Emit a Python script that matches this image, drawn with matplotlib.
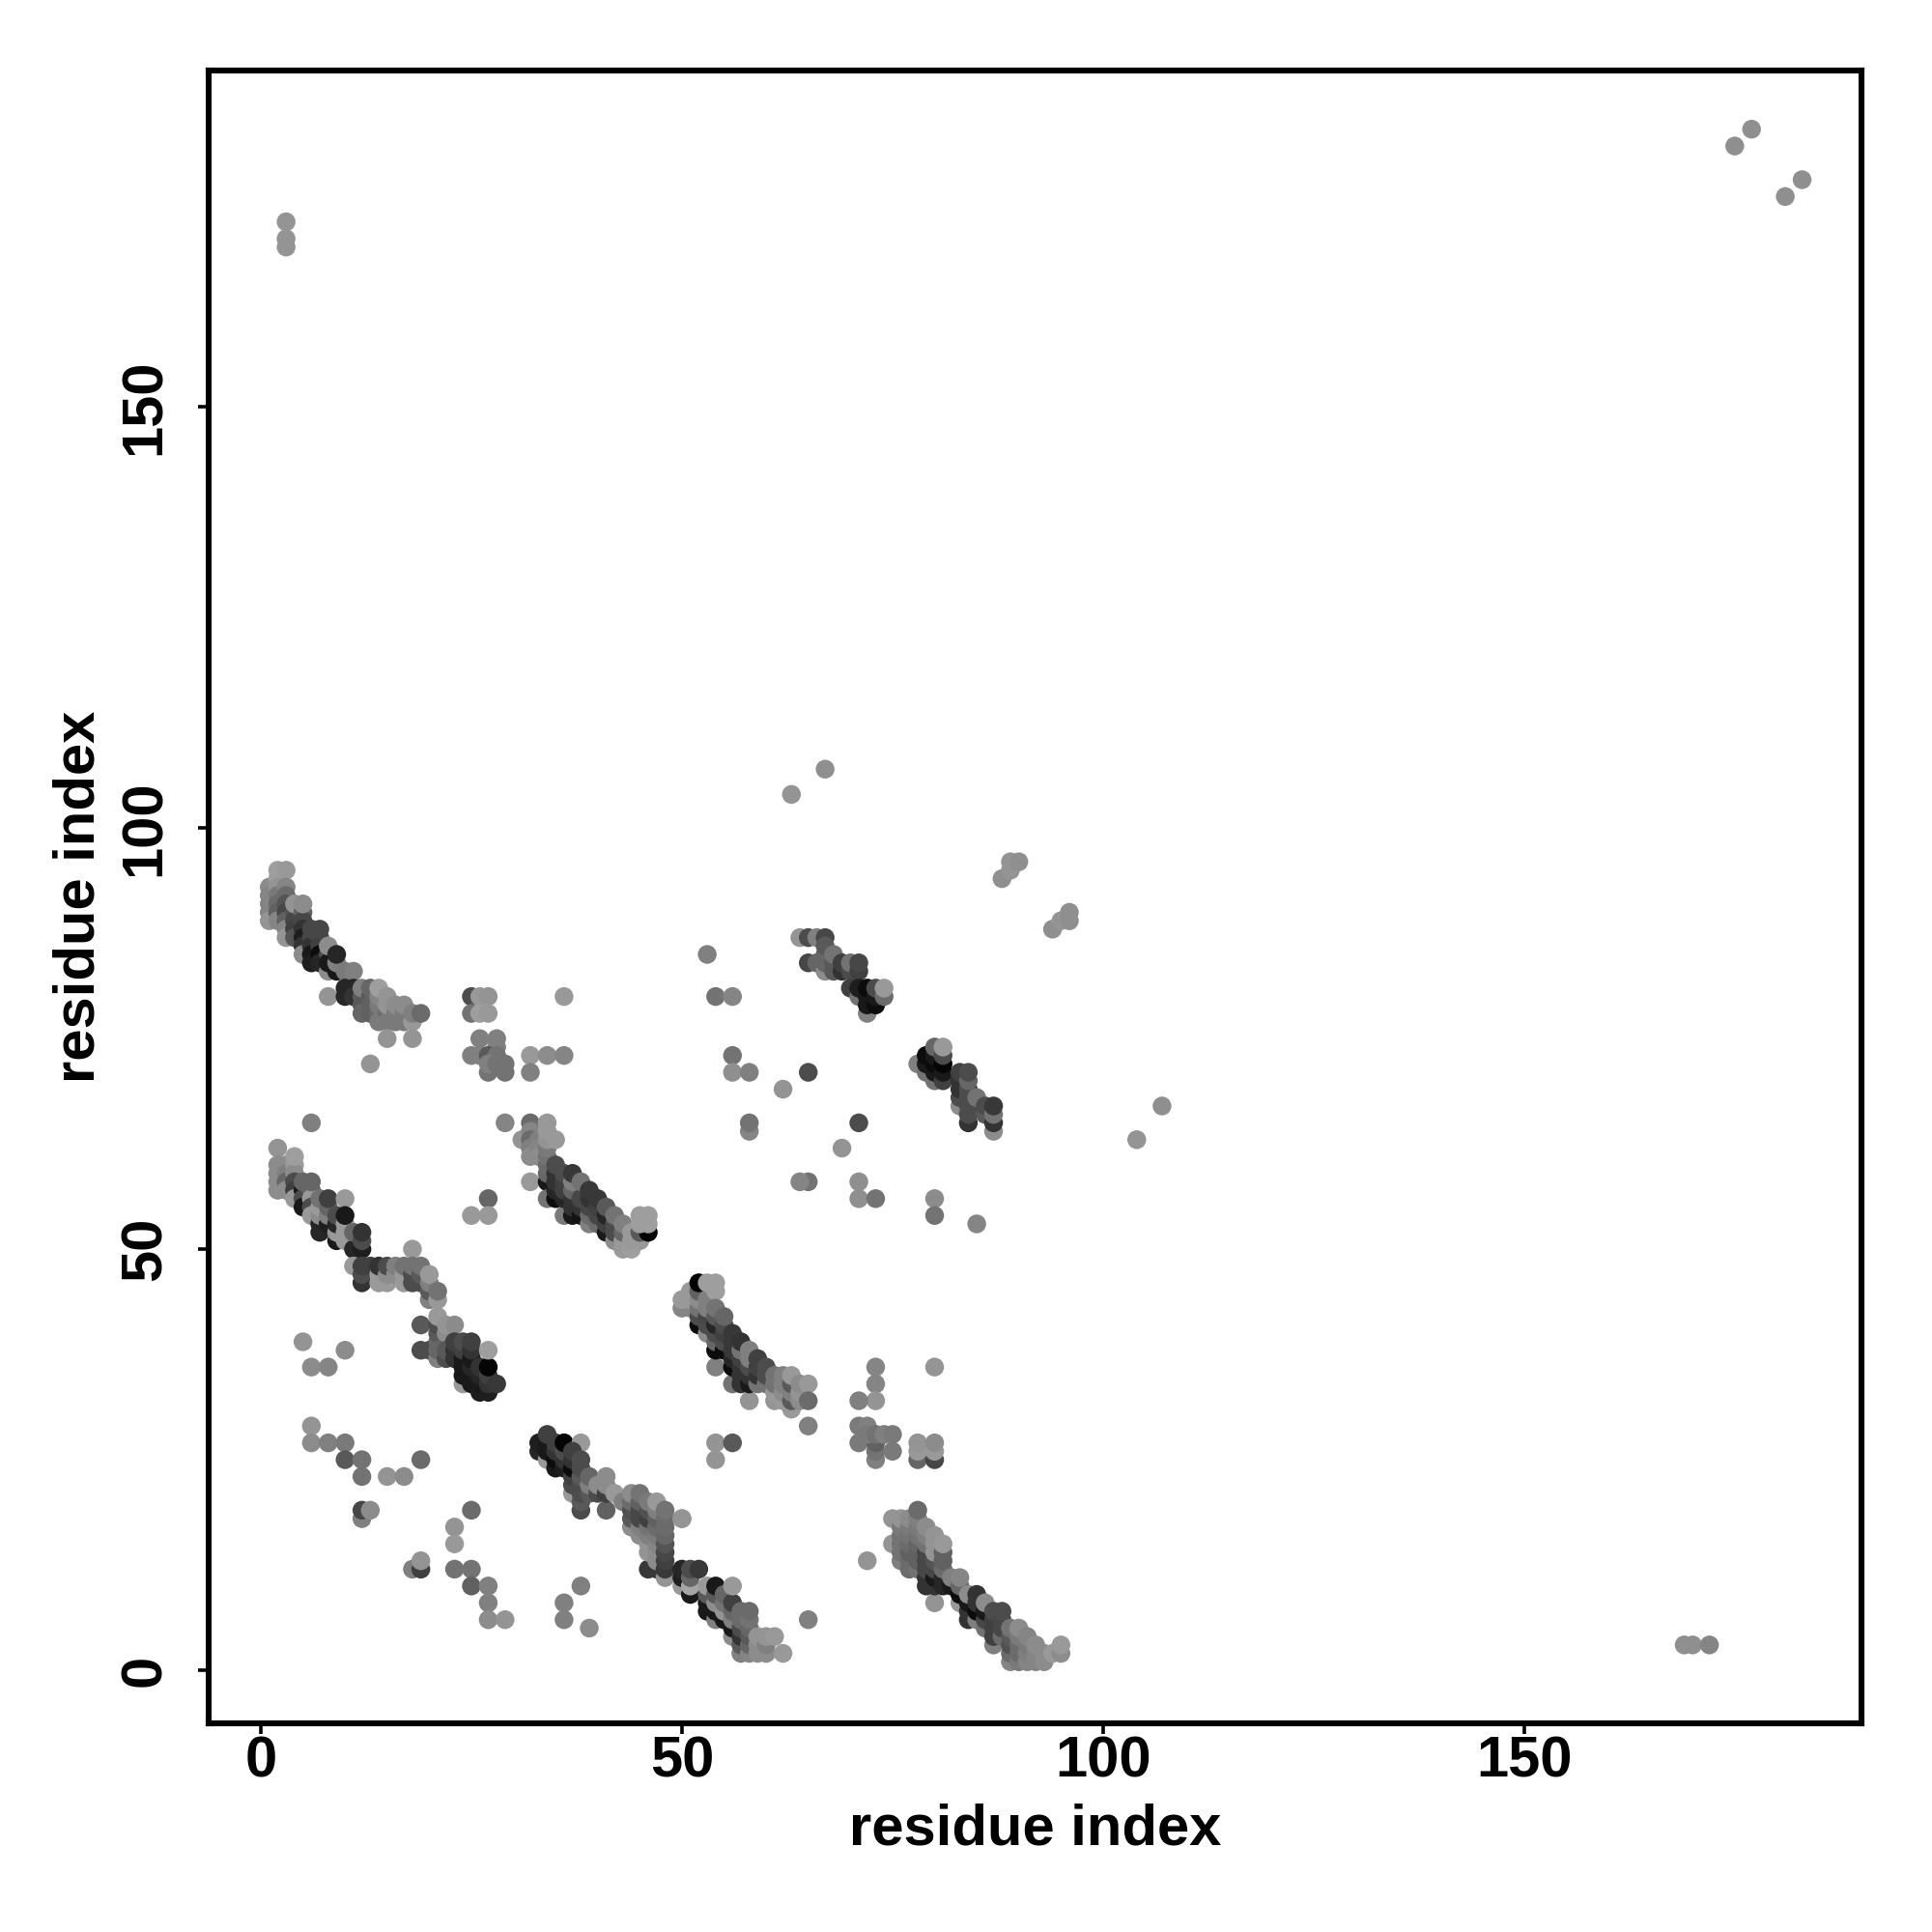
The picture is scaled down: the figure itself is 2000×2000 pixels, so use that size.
import matplotlib
matplotlib.use('Agg')
import matplotlib.pyplot as plt

# contacts as (i, j, score), grouped by region of the map. score 0 = black
far_points = [(175, 181, .56), (177, 183, .56), (181, 175, .56), (183, 177, .56),
              (3, 169, .58), (3, 170, .58), (3, 172, .58),
              (169, 3, .56), (170, 3, .56), (172, 3, .52),
              (63, 104, .58), (67, 107, .56),
              (88, 94, .56), (89, 95, .58), (89, 96, .58), (90, 96, .56),
              (94, 88, .56), (95, 89, .58), (96, 89, .56), (96, 90, .56),
              (104, 63, .58), (107, 67, .56)]

band_a = [(1, 93, .55), (1, 92, .52), (1, 91, .52), (1, 90, .52), (1, 89, .58),
          (2, 95, .62), (2, 94, .62), (2, 93, .58), (2, 92, .48), (2, 91, .42), (2, 90, .38), (2, 89, .52),
          (3, 95, .6), (3, 93, .52), (3, 92, .42), (3, 91, .33), (3, 90, .28), (3, 89, .38), (3, 88, .52), (3, 87, .58),
          (4, 90, .33), (4, 89, .28), (4, 88, .25), (4, 87, .33), (4, 91, .58),
          (5, 90, .38), (5, 89, .28), (5, 88, .2), (5, 87, .12), (5, 86, .2), (5, 85, .55), (5, 91, .55),
          (6, 87, .28), (6, 86, .2), (6, 85, .1), (6, 84, .12), (6, 88, .28),
          (7, 87, .28), (7, 86, .25), (7, 85, .05), (7, 84, .15), (7, 88, .28),
          (8, 83, .55), (8, 85, .3), (8, 84, .1), (8, 86, .55),
          (9, 83, .1), (9, 84, .5), (9, 85, .15), (8, 80, .58),
          (10, 83, .48), (11, 83, .5), (10, 81, .15), (10, 80, .15), (11, 81, .15), (11, 80, .2),
          (12, 80, .35), (12, 79, .35), (12, 78, .4), (12, 81, .5),
          (13, 80, .35), (13, 79, .38), (13, 78, .38), (13, 81, .4),
          (14, 78, .42), (14, 77, .48), (14, 79, .48), (14, 80, .52), (14, 81, .62),
          (15, 78, .42), (15, 77, .48), (15, 79, .58), (15, 80, .58),
          (16, 78, .48), (16, 77, .48), (16, 79, .55), (17, 78, .48), (17, 77, .48), (17, 79, .55),
          (18, 77, .6), (18, 78, .5), (19, 78, .42),
          (15, 75, .58), (18, 75, .58), (13, 72, .58)]

block_25_80 = [(25, 80, .3), (26, 80, .6), (27, 80, .58),
               (25, 78, .45), (26, 78, .62), (27, 78, .6),
               (26, 75, .5), (28, 75, .5), (28, 74, .5),
               (25, 73, .5), (26, 73, .5), (27, 73, .35), (28, 73, .45),
               (27, 71, .45), (27, 72, .5), (28, 72, .45), (29, 72, .45), (29, 71, .45),
               (32, 73, .6), (34, 73, .55), (36, 73, .52), (32, 71, .5), (36, 80, .6),
               (6, 65, .5), (29, 65, .52)]

band_b = [(2, 62, .58), (2, 60, .55), (2, 59, .55), (2, 58, .55), (2, 57, .55),
          (3, 60, .55), (3, 59, .5), (3, 58, .4), (3, 57, .55),
          (4, 60, .6), (4, 59, .55), (4, 58, .3), (4, 57, .25), (4, 56, .6), (4, 61, .62),
          (5, 57, .1), (5, 56, .3), (5, 55, .1), (5, 58, .4),
          (6, 57, .4), (6, 56, .6), (6, 55, .3), (6, 54, .6), (6, 58, .4),
          (7, 53, .15), (7, 52, .15), (7, 54, .55), (7, 55, .6), (7, 56, .45),
          (8, 53, .12), (8, 54, .5), (8, 55, .4), (8, 56, .25), (10, 56, .6),
          (9, 51, .1), (9, 52, .6), (9, 53, .15), (9, 54, .3),
          (10, 51, .6), (10, 52, .6), (10, 53, .6), (10, 54, .1),
          (11, 50, .15), (11, 52, .4), (12, 50, .12), (12, 51, .3), (12, 52, .2),
          (11, 48, .6), (12, 46, .2), (12, 47, .3), (12, 48, .25), (13, 48, .25),
          (14, 46, .6), (14, 47, .6), (14, 48, .2), (15, 46, .6), (15, 47, .55), (15, 48, .3),
          (16, 47, .55), (16, 48, .5), (17, 46, .6), (17, 47, .6), (17, 48, .45),
          (18, 50, .6), (18, 46, .3), (18, 47, .3), (18, 48, .45),
          (19, 46, .3), (19, 47, .35), (19, 48, .45),
          (20, 44, .5), (20, 45, .35), (20, 46, .5), (20, 47, .6), (21, 44, .6), (21, 45, .45),
          (19, 41, .35), (19, 38, .3), (20, 38, .3), (21, 39, .4), (21, 40, .35), (21, 41, .3),
          (21, 42, .6), (22, 40, .55), (22, 41, .58), (23, 41, .55),
          (21, 37, .5), (21, 38, .4), (22, 37, .3), (22, 38, .35),
          (24, 34, .6), (23, 37, .2), (23, 38, .2), (23, 39, .25),
          (24, 35, .1), (24, 36, .1), (24, 37, .1), (24, 38, .25), (24, 39, .3),
          (25, 34, .1), (25, 35, .1), (25, 36, .15), (25, 37, .1), (25, 38, .2), (25, 39, .25),
          (26, 33, .12), (26, 34, .1), (26, 35, .15), (26, 36, .2), (27, 33, .12), (27, 34, .2), (27, 35, .25),
          (28, 34, .22), (27, 36, .02), (27, 38, .62)]

low_left = [(5, 39, .58), (6, 36, .55), (8, 36, .52), (10, 38, .55),
            (27, 56, .4), (25, 54, .6), (27, 54, .6),
            (6, 29, .58), (6, 27, .55), (8, 27, .5), (10, 27, .48), (10, 25, .35),
            (12, 25, .45), (12, 23, .45), (15, 23, .58), (17, 23, .55), (19, 25, .42),
            (12, 18, .5), (12, 19, .28), (13, 19, .55), (25, 19, .42),
            (23, 17, .58), (23, 15, .6), (18, 12, .5), (19, 12, .25), (19, 13, .58),
            (23, 12, .45), (25, 12, .45), (25, 10, .38), (27, 10, .5), (27, 8, .5), (27, 6, .55), (29, 6, .58)]

band_c = [(32, 65, .42), (34, 65, .6), (31, 63, .58), (32, 64, .52), (32, 63, .42), (32, 62, .5), (32, 61, .55),
          (33, 63, .5), (33, 62, .52), (33, 61, .55), (32, 58, .6),
          (34, 58, .1), (34, 59, .4), (34, 60, .42), (34, 61, .45), (34, 62, .48), (34, 63, .58), (34, 64, .6), (35, 63, .6),
          (34, 56, .45), (35, 56, .05), (35, 57, .15), (35, 58, .2), (35, 59, .2), (35, 60, .3),
          (36, 54, .48), (36, 56, .15), (36, 57, .25), (36, 58, .25), (36, 59, .3),
          (37, 54, .1), (37, 55, .2), (37, 56, .2), (37, 57, .4), (37, 58, .5), (37, 59, .22),
          (38, 54, .08), (38, 55, .2), (38, 56, .28), (38, 58, .45),
          (39, 53, .5), (39, 54, .42), (39, 55, .28), (39, 56, .2), (39, 57, .22),
          (40, 53, .42), (40, 54, .28), (40, 55, .25), (40, 56, .22),
          (41, 52, .1), (41, 53, .25), (41, 54, .15), (41, 55, .35),
          (42, 51, .55), (42, 52, .3), (42, 53, .3), (42, 54, .45),
          (43, 50, .6), (43, 51, .6), (43, 52, .4), (43, 53, .5),
          (44, 50, .62), (44, 51, .6), (44, 52, .6), (45, 51, .6), (45, 52, .35),
          (46, 52, .02), (45, 53, .62), (46, 53, .62), (45, 54, .62), (46, 54, .62),
          (58, 64, .52), (58, 65, .45)]

band_d = [(51, 43, .55), (50, 43, .52), (51, 45, .6), (50, 44, .6), (51, 44, .6),
          (52, 41, .05), (52, 42, .3), (52, 43, .45), (52, 44, .55), (52, 45, .38), (52, 46, 0.),
          (53, 40, .55), (53, 41, .3), (53, 42, .28), (53, 43, .5), (53, 44, .5),
          (53, 46, .62), (54, 46, .62), (54, 45, .62),
          (54, 36, .5), (54, 38, .05), (54, 39, .4), (54, 40, .3), (54, 41, .15), (54, 42, .35), (54, 43, .45),
          (55, 38, .05), (55, 39, .3), (55, 40, .25), (55, 41, .3), (55, 42, .4),
          (56, 34, .45), (56, 36, .05), (56, 37, .15), (56, 38, .22), (56, 39, .22), (56, 40, .22),
          (57, 34, .2), (57, 35, .2), (57, 36, .2), (57, 37, .25), (57, 38, .45), (57, 39, .2),
          (58, 32, .58), (58, 34, .1), (58, 35, .2), (58, 36, .3), (58, 37, .5), (58, 38, .5),
          (59, 34, .45), (59, 35, .2), (59, 36, .25), (59, 37, .25),
          (60, 34, .45), (60, 35, .3), (60, 36, .3),
          (61, 32, .58), (61, 33, .6), (61, 34, .45), (61, 35, .45),
          (62, 32, .6), (62, 33, .55), (62, 34, .5), (62, 35, .5),
          (63, 31, .6), (63, 32, .35), (63, 33, .5), (63, 34, .35), (63, 35, .6),
          (64, 32, .55), (64, 33, .58), (64, 34, .55), (65, 34, .6), (65, 32, .42), (65, 29, .5),
          (54, 27, .58), (56, 27, .35), (54, 25, .58)]

block_72_28 = [(73, 36, .52), (73, 34, .52), (73, 32, .58), (71, 32, .5),
               (71, 29, .48), (72, 29, .5), (71, 27, .48),
               (73, 25, .5), (73, 26, .45), (73, 27, .38), (72, 28, .48), (73, 28, .45), (74, 28, .5), (75, 28, .48), (75, 26, .48),
               (80, 36, .58), (78, 25, .4), (80, 25, .28), (78, 26, .6), (80, 26, .6), (78, 27, .58), (80, 27, .55)]

band_e = [(33, 26, .15), (33, 27, .12), (34, 25, .6), (34, 26, .1), (34, 27, .1), (34, 28, .25),
          (35, 24, .1), (35, 25, .05), (35, 26, .2), (35, 27, .25),
          (36, 24, .12), (36, 25, .2), (36, 26, .3), (36, 27, .02), (38, 27, .6),
          (37, 21, .6), (37, 22, .3), (37, 23, .25), (37, 24, .05), (37, 25, .2), (37, 26, .25),
          (38, 19, .3), (38, 20, .35), (38, 21, .3), (38, 22, .3), (38, 23, .35), (38, 24, .3), (38, 25, .3),
          (39, 21, .35), (39, 22, .5), (39, 23, .4), (40, 21, .3), (40, 22, .55),
          (41, 19, .38), (41, 21, .25), (41, 22, .55), (41, 23, .55), (42, 21, .6), (43, 20, .5),
          (44, 17, .55), (44, 18, .35), (44, 19, .32), (44, 20, .42), (44, 21, .55),
          (45, 16, .55), (45, 17, .5), (45, 18, .28), (45, 19, .28), (45, 20, .38), (45, 21, .45),
          (46, 12, .22), (46, 14, .58), (46, 15, .58), (46, 16, .5), (46, 17, .45), (46, 18, .25), (46, 19, .32), (46, 20, .48),
          (47, 12, .22), (47, 13, .55), (47, 14, .55), (47, 15, .52), (47, 16, .48), (47, 17, .42), (47, 18, .38), (47, 19, .5), (47, 20, .6),
          (48, 11, .58), (48, 12, .22), (48, 13, .25), (48, 14, .28), (48, 15, .33), (48, 16, .4), (48, 17, .42), (48, 18, .42), (48, 19, .45),
          (50, 18, .58), (50, 10, .6), (50, 11, .12), (50, 12, .15), (51, 9, .1), (51, 10, .65), (51, 11, .4), (51, 12, .3), (52, 12, .22),
          (53, 7, .1), (53, 8, .1), (53, 9, .35), (53, 10, .6),
          (54, 6, .5), (54, 7, .1), (54, 8, .55), (54, 9, .35), (54, 10, .1),
          (55, 6, .1), (55, 7, .58), (55, 8, .45), (55, 9, .4),
          (56, 4, .55), (56, 5, .1), (56, 6, .5), (56, 7, .4), (56, 8, .25), (56, 10, .6),
          (57, 2, .5), (57, 3, .35), (57, 4, .2), (57, 5, .3), (57, 6, .42), (57, 7, .42),
          (58, 2, .52), (58, 3, .4), (58, 4, .35), (58, 5, .4), (58, 6, .45), (58, 7, .42),
          (59, 2, .55), (59, 3, .55), (59, 4, .58), (60, 2, .55), (60, 3, .5), (60, 4, .58), (61, 4, .6), (62, 2, .6),
          (38, 10, .5), (36, 8, .5), (36, 6, .5), (39, 5, .55), (65, 6, .5), (50, 18, .58)]

band_f = [(72, 13, .58), (75, 18, .58), (75, 15, .58),
          (76, 13, .5), (76, 14, .45), (76, 15, .45), (76, 16, .45), (76, 17, .48), (76, 18, .58),
          (77, 12, .42), (77, 13, .42), (77, 14, .38), (77, 15, .42), (77, 16, .45), (77, 17, .48), (77, 18, .55),
          (78, 12, .45), (78, 13, .38), (78, 14, .38), (78, 15, .4), (78, 16, .45), (78, 17, .48), (78, 18, .5), (78, 19, .42),
          (80, 8, .58), (79, 10, .2), (79, 11, .2), (79, 12, .28), (79, 13, .28), (79, 14, .28), (79, 15, .45), (79, 16, .5), (79, 17, .55),
          (80, 10, .2), (80, 11, .1), (80, 12, .28), (80, 13, .33), (80, 14, .58), (80, 15, .58), (80, 16, .58),
          (81, 10, .15), (81, 11, .15), (81, 12, .42), (81, 13, .38), (81, 14, .38), (81, 15, .6),
          (82, 10, .1), (82, 11, .5), (83, 8, .6), (83, 9, .05), (83, 10, .4), (83, 11, .52),
          (84, 6, .2), (84, 7, .2), (84, 8, .1), (84, 9, .55),
          (85, 6, .5), (85, 7, .05), (85, 8, .2), (85, 9, .2),
          (86, 5, .45), (86, 6, .28), (86, 7, .1), (86, 8, .55),
          (87, 3, .5), (87, 4, .25), (87, 5, .25), (87, 6, .25), (87, 7, .3),
          (88, 4, .42), (88, 5, .28), (88, 6, .28), (88, 7, .3),
          (89, 1, .52), (89, 2, .42), (89, 3, .32), (89, 4, .35), (89, 5, .45),
          (90, 1, .48), (90, 2, .42), (90, 3, .42), (90, 4, .48), (90, 5, .55),
          (91, 1, .52), (91, 2, .5), (91, 3, .48), (91, 4, .52),
          (92, 1, .52), (92, 2, .52), (92, 3, .55), (93, 1, .55), (93, 2, .55), (94, 2, .6), (95, 2, .55), (95, 3, .6)]

band_g = [(64, 87, .58), (65, 87, .3), (66, 87, .5), (67, 87, .28),
          (65, 84, .28), (66, 84, .4), (67, 83, .55), (67, 84, .4), (67, 85, .4), (67, 86, .35),
          (68, 83, .35), (68, 84, .35), (68, 85, .45), (69, 83, .2), (69, 84, .25),
          (70, 83, .3), (70, 84, .45), (71, 83, .25), (71, 84, .28),
          (72, 78, .5), (70, 81, .25), (71, 80, .45), (71, 81, .12), (72, 79, .1), (72, 80, .1), (72, 81, .05),
          (73, 79, .05), (73, 80, .1), (73, 81, .3), (74, 80, .42), (74, 81, .6),
          (65, 71, .3), (62, 69, .58), (71, 65, .3), (69, 62, .58),
          (71, 58, .56), (71, 56, .56), (73, 56, .45), (65, 58, .45), (64, 58, .52),
          (53, 85, .5), (54, 80, .45), (56, 80, .52), (56, 73, .45), (56, 71, .56), (58, 71, .5)]

band_h = [(78, 72, .5), (79, 71, .45), (79, 72, .1), (79, 73, .05),
          (80, 70, .45), (80, 71, .1), (80, 72, .05), (80, 73, .1), (80, 74, .4),
          (81, 70, .25), (81, 71, .1), (81, 72, .02), (81, 73, .3), (81, 74, .6),
          (83, 67, .55), (83, 68, .3), (83, 69, .2), (83, 70, .2), (83, 71, .25),
          (84, 65, .2), (84, 66, .3), (84, 67, .3), (84, 68, .3), (84, 69, .3), (84, 70, .4), (84, 71, .3),
          (85, 67, .3), (85, 68, .45), (86, 66, .35), (86, 67, .3),
          (87, 64, .55), (87, 65, .2), (87, 66, .45), (87, 67, .22),
          (80, 56, .55), (80, 54, .45), (85, 53, .52)]

groups = [far_points, block_25_80, low_left, band_a, band_b, band_c, band_d,
          block_72_28, band_e, band_f, band_g, band_h]

ticks = [0, 50, 100, 150]

fig = plt.figure(figsize=(20, 20), dpi=100)
ax = fig.add_axes([215.7 / 2000, 1 - 1784 / 2000, (1927 - 215.7) / 2000, (1784 - 72.7) / 2000])

for g in groups:
    x = [p[0] for p in g]
    y = [p[1] for p in g]
    s = [p[2] for p in g]
    ax.scatter(x, y, c=s, cmap='gray', vmin=0, vmax=1, s=196, linewidths=0)

ax.set_xlim(-6.23, 190.05)
ax.set_ylim(-6.31, 190.0)
ax.set_xticks(ticks)
ax.set_yticks(ticks)
ax.tick_params(axis='both', length=8, width=2.6, labelsize=43)
ax.tick_params(axis='x', pad=1)
ax.tick_params(axis='y', pad=19)
for lab in ax.get_xticklabels():
    lab.set_fontweight('bold')
    lab.set_family(['Liberation Sans', 'DejaVu Sans'])
for lab in ax.get_yticklabels():
    lab.set_fontweight('bold')
    lab.set_family(['Liberation Sans', 'DejaVu Sans'])
    lab.set_rotation(90)
    lab.set_va('center')
for sp in ax.spines.values():
    sp.set_linewidth(4.4)

ax.set_xlabel('residue index', fontsize=43, fontweight='bold', family=['Liberation Sans', 'DejaVu Sans'])
ax.set_ylabel('residue index', fontsize=43, fontweight='bold', family=['Liberation Sans', 'DejaVu Sans'])
ax.xaxis.set_label_coords(0.5, 1 - (1894 - 72.7) / (1784 - 72.7), transform=ax.transAxes)
ax.yaxis.set_label_coords((82 - 215.7) / (1927 - 215.7), 0.5, transform=ax.transAxes)
ax.xaxis.label.set_va('center')
ax.yaxis.label.set_va('center')

fig.savefig('out.png', dpi=100)
